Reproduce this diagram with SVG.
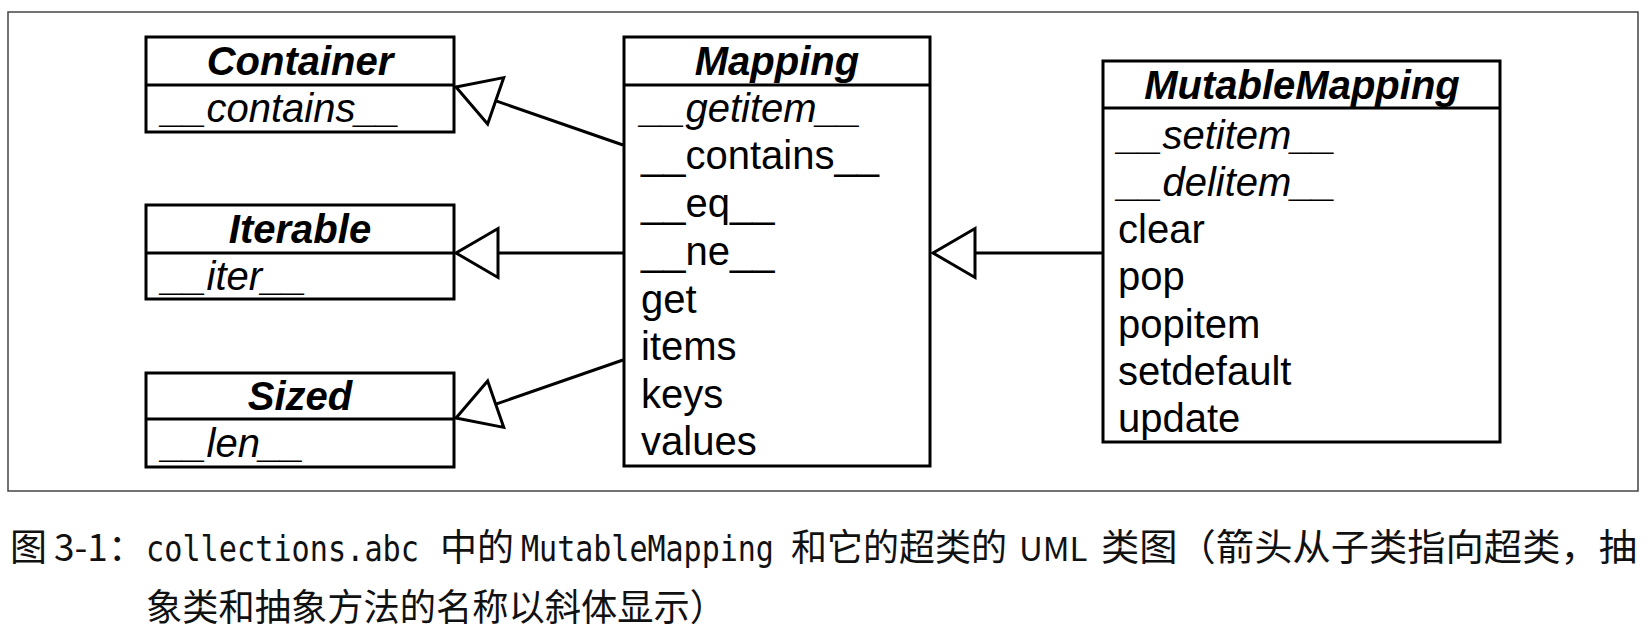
<svg xmlns="http://www.w3.org/2000/svg" width="1650" height="637" viewBox="0 0 1650 637">
<style>
.box{fill:#fff;stroke:#000;stroke-width:3}
.div{stroke:#000;stroke-width:3}
.t{font-family:"Liberation Sans",Arial,sans-serif;font-size:40px;fill:#000}
.title{font-weight:bold;font-style:italic;text-anchor:middle}
.it{font-style:italic}
.edge{fill:none;stroke:#000;stroke-width:3;marker-end:url(#tri)}
.cap{font-family:"Noto Sans CJK SC","Noto Sans",sans-serif;font-size:37px;fill:#111}
.mono{font-family:"DejaVu Sans Mono","Liberation Mono",monospace;font-size:36px;fill:#111}
</style>
<defs>
<marker id="tri" markerUnits="userSpaceOnUse" viewBox="-48 -30 54 60" refX="0" refY="0" markerWidth="54" markerHeight="60" orient="auto" overflow="visible">
<path d="M0,0 L-42,-24.5 L-42,24.5 Z" fill="#fff" stroke="#000" stroke-width="3" stroke-linejoin="miter"/>
</marker>
</defs>
<rect x="0" y="0" width="1650" height="637" fill="#fff"/>
<rect x="8" y="12" width="1630" height="479" fill="none" stroke="#444" stroke-width="1.5"/>

<g id="connectors">
<path class="edge" d="M623,145 L456,87"/>
<path class="edge" d="M623,253 L456,253"/>
<path class="edge" d="M623,360 L456,418"/>
<path class="edge" d="M1103,253 L933,253"/>
</g>

<g id="container">
<rect class="box" x="146" y="37" width="308" height="95"/>
<line class="div" x1="146" y1="85" x2="454" y2="85"/>
<text class="t title" x="300" y="75">Container</text>
<text class="t it" x="162" y="122">__contains__</text>
</g>

<g id="iterable">
<rect class="box" x="146" y="205" width="308" height="94"/>
<line class="div" x1="146" y1="253" x2="454" y2="253"/>
<text class="t title" x="300" y="243">Iterable</text>
<text class="t it" x="162" y="290">__iter__</text>
</g>

<g id="sized">
<rect class="box" x="146" y="373" width="308" height="94"/>
<line class="div" x1="146" y1="419" x2="454" y2="419"/>
<text class="t title" x="300" y="410">Sized</text>
<text class="t it" x="162" y="457">__len__</text>
</g>

<g id="mapping">
<rect class="box" x="624" y="37" width="306" height="429"/>
<line class="div" x1="624" y1="85" x2="930" y2="85"/>
<text class="t title" x="777" y="75">Mapping</text>
<text class="t it" x="641" y="122">__getitem__</text>
<text class="t" x="641" y="169">__contains__</text>
<text class="t" x="641" y="217">__eq__</text>
<text class="t" x="641" y="265">__ne__</text>
<text class="t" x="641" y="313">get</text>
<text class="t" x="641" y="360">items</text>
<text class="t" x="641" y="408">keys</text>
<text class="t" x="641" y="455">values</text>
</g>

<g id="mutablemapping">
<rect class="box" x="1103" y="61" width="397" height="381"/>
<line class="div" x1="1103" y1="108" x2="1500" y2="108"/>
<text class="t title" x="1302" y="99">MutableMapping</text>
<text class="t it" x="1118" y="149">__setitem__</text>
<text class="t it" x="1118" y="196">__delitem__</text>
<text class="t" x="1118" y="243">clear</text>
<text class="t" x="1118" y="290">pop</text>
<text class="t" x="1118" y="338">popitem</text>
<text class="t" x="1118" y="385">setdefault</text>
<text class="t" x="1118" y="432">update</text>
</g>

<g id="caption">
<text class="cap" x="10" y="561">图</text>
<text class="cap" x="54" y="561">3-1：</text>
<text class="mono" transform="translate(146,561) scale(0.84,1)" x="0" y="0">collections.abc</text>
<text class="cap" x="440" y="561">中的</text>
<text class="mono" transform="translate(521,561) scale(0.834,1)" x="0" y="0">MutableMapping</text>
<text class="cap" x="791" y="561" textLength="216" lengthAdjust="spacingAndGlyphs">和它的超类的</text>
<text class="cap" x="1019" y="561" style="font-size:33px">UML</text>
<text class="cap" x="1101" y="561" textLength="536" lengthAdjust="spacingAndGlyphs">类图（箭头从子类指向超类，抽</text>
<text class="cap" x="146" y="621" textLength="580" lengthAdjust="spacingAndGlyphs">象类和抽象方法的名称以斜体显示）</text>
</g>
</svg>
